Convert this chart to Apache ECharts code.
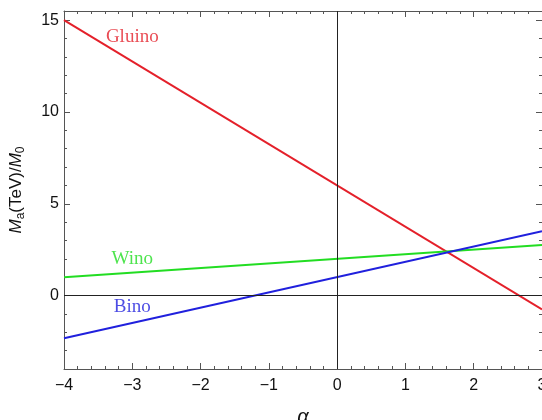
<!DOCTYPE html>
<html>
<head>
<meta charset="utf-8">
<script src="https://cdn.jsdelivr.net/npm/echarts@6/dist/echarts.min.js"></script>
<style>
  html, body { margin: 0; padding: 0; background: #fff; }
  #chart { width: 542px; height: 420px; }
</style>
</head>
<body>
<div id="chart"></div>
<script>
// line end points (alpha from -4 to 3)
const alphaEnds = [-4, 3];
const gluino = [15, -0.75];
const wino = [1, 2.75];
const bino = [-2.33, 3.5];

// curve labels
const labelNames = ['Gluino', 'Wino', 'Bino'];
const labelX = [-3, -3, -3];
const labelY = [14.1, 2.0, -0.64];

// ticks
const xTicks = [-4, -3, -2, -1, 0, 1, 2, 3];
const yMajorTicks = [0, 5, 10, 15];
const yMinorTicks = [-3, -2, -1, 1, 2, 3, 4, 6, 7, 8, 9, 11, 12, 13, 14];

const colors = ['#e4202a', '#22dd22', '#2020dd'];
const frame = '#555';

function pairs(ys) {
    return alphaEnds.map((x, i) => [x, ys[i]]);
}

const chart = echarts.init(document.getElementById('chart'));

function xAxisBase(pos, showLabel) {
    return {
        type: 'value',
        position: pos,
        min: xTicks[0],
        max: xTicks[xTicks.length - 1],
        interval: 1,
        axisLine: { show: true, onZero: false, lineStyle: { color: frame, width: 1 } },
        axisTick: { show: true, inside: true, length: 6, lineStyle: { color: frame } },
        minorTick: { show: true, splitNumber: 5, length: 3, lineStyle: { color: frame } },
        splitLine: { show: false },
        minorSplitLine: { show: false },
        axisLabel: {
            show: showLabel,
            margin: 9,
            fontSize: 16,
            color: '#111',
            fontFamily: 'Liberation Sans',
            formatter: v => v < 0 ? '\u2212' + (-v) : String(v)
        }
    };
}

function yAxisBase(pos, major) {
    return {
        type: 'value',
        position: pos,
        min: -4,
        max: 15.5,
        interval: 1,
        axisLine: { show: major, onZero: false, lineStyle: { color: frame, width: 1 } },
        axisTick: {
            show: true, inside: true, length: major ? 6 : 3,
            customValues: major ? yMajorTicks : yMinorTicks,
            lineStyle: { color: frame }
        },
        splitLine: { show: false },
        axisLabel: { show: false }
    };
}

const xBottom = xAxisBase('bottom', true);
xBottom.name = 'α';
xBottom.nameLocation = 'middle';
xBottom.nameGap = 38;
xBottom.nameTextStyle = { fontSize: 20, fontStyle: 'italic', color: '#111', fontFamily: 'Liberation Sans' };

const yLeft = yAxisBase('left', true);
yLeft.axisLabel = {
    show: true,
    customValues: yMajorTicks,
    margin: 5,
    fontSize: 16,
    color: '#111',
    fontFamily: 'Liberation Sans'
};
yLeft.name = '{i|M}{s|a}(TeV)/{i|M}{s|0}';
yLeft.nameLocation = 'middle';
yLeft.nameGap = 37;
yLeft.nameTextStyle = {
    fontSize: 17,
    color: '#111',
    fontFamily: 'Liberation Sans',
    rich: {
        i: { fontSize: 17, fontStyle: 'italic', color: '#111', fontFamily: 'Liberation Sans' },
        s: { fontSize: 12, color: '#111', fontFamily: 'Liberation Sans', padding: [9, 0, 0, 0] }
    }
};

const lineSeries = [gluino, wino, bino].map((ys, i) => ({
    name: labelNames[i],
    type: 'line',
    xAxisIndex: 0,
    yAxisIndex: 0,
    data: pairs(ys),
    showSymbol: false,
    symbol: 'none',
    z: 3,
    lineStyle: { color: colors[i], width: 2 }
}));

chart.setOption({
    backgroundColor: '#fff',
    animation: false,
    grid: { left: 64, right: 0, top: 11, bottom: 51, containLabel: false, outerBoundsMode: 'none' },
    xAxis: [xBottom, xAxisBase('top', false)],
    yAxis: [yLeft, yAxisBase('left', false), yAxisBase('right', true), yAxisBase('right', false)],
    series: [
        {
            type: 'line',
            data: [],
            z: 2,
            markLine: {
                silent: true,
                symbol: 'none',
                label: { show: false },
                lineStyle: { color: '#222', width: 1, type: 'solid' },
                data: [{ xAxis: 0 }, { yAxis: 0 }]
            }
        },
        ...lineSeries,
        {
            type: 'scatter',
            symbolSize: 0,
            z: 4,
            data: labelNames.map((n, i) => ({
                value: [labelX[i], labelY[i]],
                label: {
                    show: true,
                    position: 'inside',
                    formatter: n,
                    fontSize: 19,
                    fontFamily: 'Liberation Serif',
                    color: colors[i]
                }
            }))
        }
    ]
});
</script>
</body>
</html>
